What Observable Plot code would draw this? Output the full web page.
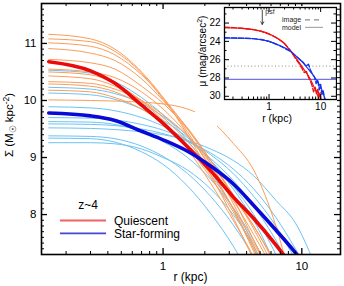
<!DOCTYPE html>
<html><head><meta charset="utf-8">
<script src="https://cdn.jsdelivr.net/npm/d3@7"></script>
<script src="https://cdn.jsdelivr.net/npm/@observablehq/plot@0.6"></script>
<style>
body{margin:0;background:#fff;}
#wrap{position:relative;width:344px;height:286px;font-family:"Liberation Sans",Arial,sans-serif;}
#inset{position:absolute;left:195px;top:6px;}
svg{display:block;}
</style></head><body><div id="wrap"><div id="main"></div><div id="inset"></div></div>
<script>
// ---------- main panel data ----------
const radii = [0.15, 0.3, 0.45, 0.7, 1.0, 1.5, 2.2, 3.2, 4.5, 6.5, 9, 13]; // kpc
const quiescentMedian = [10.68, 10.52, 10.30, 9.92, 9.60, 9.19, 8.77, 8.31, 7.93, 7.47, 7.02];
const starFormingMedian = [9.78, 9.73, 9.65, 9.46, 9.31, 9.11, 8.85, 8.54, 8.16, 7.73, 7.33, 6.8];
const quiescentProfiles = [
  [11.16, 11.08, 10.90, 10.50, 10.05, 9.40, 8.70, 7.95, 7.20, 6.30],
  [11.08, 11.03, 10.86, 10.48, 10.02, 9.45, 8.80, 8.10, 7.35, 6.50],
  [11.01, 10.95, 10.80, 10.45, 10.05, 9.50, 8.90, 8.20, 7.45, 6.60],
  [10.91, 10.83, 10.70, 10.38, 10.00, 9.52, 8.95, 8.30, 7.55, 6.80],
  [10.72, 10.66, 10.55, 10.25, 9.95, 9.50, 8.95, 8.35, 7.75, 7.00],
  [10.55, 10.50, 10.40, 10.15, 9.85, 9.40, 8.85, 8.30, 7.80, 7.10, 6.40],
  [10.50, 10.45, 10.30, 10.00, 9.70, 9.28, 8.80, 8.25, 7.65, 6.95],
  [10.43, 10.38, 10.25, 9.98, 9.65, 9.15, 8.55, 7.90, 7.25, 6.40],
  [10.33, 10.30, 10.20, 10.00, 9.75, 9.38, 8.90, 8.35, 7.80, 7.15],
  [10.29, 10.25, 10.15, 9.92, 9.62, 9.18, 8.65, 8.05, 7.40, 6.60],
  [10.01, 10.00, 9.99, 9.97, 9.94, 9.85, 9.65, 9.25, 8.78, 7.80, 6.50],
  [10.18, 10.15, 10.05, 9.85, 9.60, 9.20, 8.70, 8.12, 7.50, 6.80]
];
const starFormingProfiles = [
  [10.53, 10.48, 10.33, 10.05, 9.75, 9.30, 8.75, 8.10, 7.40, 6.50],
  [10.23, 10.20, 10.12, 9.95, 9.72, 9.38, 8.95, 8.45, 7.90, 7.10],
  [10.13, 10.10, 10.02, 9.85, 9.65, 9.35, 8.95, 8.50, 8.00, 7.30, 6.50],
  [9.89, 9.87, 9.82, 9.70, 9.55, 9.30, 8.98, 8.60, 8.15, 7.55, 6.90],
  [9.70, 9.69, 9.66, 9.58, 9.48, 9.30, 9.05, 8.72, 8.32, 7.80, 7.20],
  [9.63, 9.62, 9.58, 9.45, 9.28, 9.00, 8.62, 8.12, 7.55, 6.70],
  [9.59, 9.58, 9.56, 9.50, 9.42, 9.28, 9.08, 8.80, 8.45, 7.95, 7.40, 6.70],
  [9.52, 9.51, 9.49, 9.45, 9.40, 9.30, 9.15, 8.95, 8.68, 8.25, 7.85, 7.00],
  [9.38, 9.37, 9.33, 9.20, 9.02, 8.72, 8.32, 7.82, 7.25, 6.40],
  [9.34, 9.33, 9.27, 9.10, 8.88, 8.50, 8.02, 7.45, 6.80],
  [9.26, 9.26, 9.24, 9.15, 9.00, 8.78, 8.45, 8.00, 7.45, 6.60]
];
const xDomain = [0.133, 19];
const yDomain = [7.3, 11.7];
const xMajor = [1, 10];
const xMinor = [0.2, 0.3, 0.4, 0.5, 0.6, 0.7, 0.8, 0.9, 2, 3, 4, 5, 6, 7, 8, 9];
const yMajor = [8, 9, 10, 11];
const yMinor = d3.range(74, 117).map(d => d / 10).filter(d => !yMajor.includes(d));
const legendTitle = "z~4";
const legendLabels = ["Quiescent", "Star-forming"];

// ---------- inset data ----------
const qModelR = [0.137, 0.2, 0.3, 0.5, 0.7, 1.0, 1.43, 1.92, 2.6, 3.5, 4.67, 6.3, 8.5, 10.5];
const qModelMu = [22.52, 22.54, 22.58, 22.72, 22.88, 23.18, 23.65, 24.15, 25.05, 26.0, 27.0, 28.1, 29.75, 31.0];
const qImageR = [0.137, 0.2, 0.3, 0.5, 0.7, 1.0, 1.5, 2.0, 2.6, 3.2, 3.8, 4.3, 4.8, 5.3, 5.8, 6.3, 6.8, 7.3, 7.8, 8.3, 8.8, 9.3, 9.8, 10.3];
const qImageMu = [22.45, 22.5, 22.57, 22.72, 22.9, 23.2, 23.7, 24.25, 25.0, 25.8, 26.4, 26.9, 27.4, 27.3, 27.9, 28.3, 28.8, 29.5, 29.0, 29.7, 29.2, 30.1, 29.6, 30.6];
const sfModelR = [0.137, 0.3, 0.5, 0.7, 1.0, 1.66, 2.6, 3.5, 4.67, 6.3, 8.5, 10.6, 12.3];
const sfModelMu = [23.63, 23.66, 23.72, 23.82, 24.0, 24.5, 25.05, 25.7, 26.4, 27.3, 28.3, 29.3, 30.4];
const sfImageR = [0.137, 0.3, 0.5, 0.7, 1.0, 1.66, 2.6, 3.3, 4.0, 4.6, 5.2, 5.8, 6.4, 7.0, 7.6, 8.2, 8.8, 9.4, 10.0, 10.6, 11.2, 11.8, 12.4];
const sfImageMu = [23.6, 23.65, 23.7, 23.8, 24.0, 24.5, 25.1, 25.6, 26.0, 26.3, 26.7, 26.5, 27.2, 27.6, 27.9, 28.6, 28.2, 29.3, 28.7, 29.8, 29.4, 30.1, 30.5];
const skyLimit = 26.7;     // dotted line
const depthLimit = 28.15;  // blue line
const psfR = 0.74;
const psfArrowMu = [20.6, 22.15];
const insetXDomain = [0.137, 20.3];
const insetYDomain = [30.35, 20.3];
const insetXMajor = [1, 10];
const insetXMinor = [0.2, 0.3, 0.4, 0.5, 0.6, 0.7, 0.8, 0.9, 2, 3, 4, 5, 6, 7, 8, 9];
const insetYMajor = [22, 24, 26, 28, 30];
const insetYMinor = [21, 23, 25, 27, 29];

// ---------- helpers ----------
function rowsFrom(profiles, tag) {
  const rows = [];
  profiles.forEach((p, i) => p.forEach((v, j) => { if (v != null) rows.push({r: radii[j], s: v, id: tag + i}); }));
  return rows;
}
const pairs = (xs, ys) => xs.map((x, i) => ({r: x, v: ys[i]}));
const FONT = "Liberation Sans, Arial, Helvetica, sans-serif";

// ---------- main plot ----------
const mW = 344, mH = 286, mL = 41, mR = 4, mT = 3, mB = 32;
const innerW = mW - mL - mR, innerH = mH - mT - mB;
const lineOpts = {x: "r", y: "s", z: "id", strokeWidth: 1, curve: "monotone-x", clip: true};

const main = Plot.plot({
  width: mW, height: mH,
  marginLeft: mL, marginRight: mR, marginTop: mT, marginBottom: mB,
  style: {fontFamily: FONT, fontSize: "11.5px", background: "white", color: "black"},
  x: {type: "log", domain: xDomain, ticks: xMajor, tickFormat: d => String(d), tickSize: 0, tickPadding: 7, label: null},
  y: {domain: yDomain, ticks: yMajor, tickFormat: d => String(d), tickSize: 0, tickPadding: 5, label: null},
  marks: [
    Plot.line(rowsFrom(starFormingProfiles, "sf"), {...lineOpts, stroke: "#6cc3f4"}),
    Plot.line(rowsFrom(quiescentProfiles, "q"), {...lineOpts, stroke: "#fb9d58"}),
    Plot.line(quiescentMedian.map((v, j) => ({r: radii[j], s: v})), {x: "r", y: "s", stroke: "#ea0a0a", strokeWidth: 3.6, curve: "monotone-x", clip: true}),
    Plot.line(starFormingMedian.map((v, j) => ({r: radii[j], s: v})), {x: "r", y: "s", stroke: "#0a0ad8", strokeWidth: 3.6, curve: "monotone-x", clip: true}),
    // inward ticks on all four sides
    Plot.tickX(xMinor, {x: d => d, insetTop: innerH - 3, stroke: "black"}),
    Plot.tickX(xMajor, {x: d => d, insetTop: innerH - 6, stroke: "black", strokeWidth: 1.3}),
    Plot.tickX(xMinor, {x: d => d, insetBottom: innerH - 3, stroke: "black"}),
    Plot.tickX(xMajor, {x: d => d, insetBottom: innerH - 6, stroke: "black", strokeWidth: 1.3}),
    Plot.tickY(yMinor, {y: d => d, insetRight: innerW - 3, stroke: "black"}),
    Plot.tickY(yMajor, {y: d => d, insetRight: innerW - 6, stroke: "black", strokeWidth: 1.3}),
    Plot.tickY(yMinor, {y: d => d, insetLeft: innerW - 3, stroke: "black"}),
    Plot.tickY(yMajor, {y: d => d, insetLeft: innerW - 6, stroke: "black", strokeWidth: 1.3}),
    Plot.frame({stroke: "black", strokeWidth: 1.6})
  ]
});
document.getElementById("main").appendChild(main);

const ms = d3.select(main);
// axis labels
ms.append("text").attr("x", (mL + mW - mR) / 2).attr("y", 281).attr("text-anchor", "middle")
  .attr("font-family", FONT).attr("font-size", 12).attr("fill", "black").text("r (kpc)");
const yl = ms.append("text").attr("transform", "translate(13,125) rotate(-90)").attr("text-anchor", "middle")
  .attr("font-family", FONT).attr("font-size", 11.5).attr("fill", "black");
yl.append("tspan").text("Σ (M");
yl.append("tspan").attr("font-size", 8.5).attr("dy", 3).text("☉");
yl.append("tspan").attr("dy", -3).text(" kpc");
yl.append("tspan").attr("font-size", 8.5).attr("dy", -4.5).text("-2");
yl.append("tspan").attr("dy", 4.5).text(")");
// legend
ms.append("text").attr("x", 88).attr("y", 209).attr("text-anchor", "middle")
  .attr("font-family", FONT).attr("font-size", 12).attr("fill", "black").text(legendTitle);
const legColors = ["#f06262", "#4646d6"];
legendLabels.forEach((lab, i) => {
  const y = 220.5 + i * 12.8;
  ms.append("line").attr("x1", 60).attr("x2", 106).attr("y1", y).attr("y2", y)
    .attr("stroke", legColors[i]).attr("stroke-width", 1.8);
  ms.append("text").attr("x", 114).attr("y", y + 4.2).attr("text-anchor", "start")
    .attr("font-family", FONT).attr("font-size", 12).attr("fill", "black").text(lab);
});

// ---------- inset ----------
const iW = 142, iH = 120, iL = 29, iR = 1, iT = 1, iB = 27;
const iInW = iW - iL - iR, iInH = iH - iT - iB;
const inset = Plot.plot({
  width: iW, height: iH,
  marginLeft: iL, marginRight: iR, marginTop: iT, marginBottom: iB,
  style: {fontFamily: FONT, fontSize: "10px", background: "white", color: "black"},
  x: {type: "log", domain: insetXDomain, ticks: insetXMajor, tickFormat: d => String(d), tickSize: 0, tickPadding: 3, label: null},
  y: {domain: insetYDomain, ticks: insetYMajor, tickFormat: d => String(d), tickSize: 0, tickPadding: 4, label: null},
  marks: [
    Plot.ruleY([skyLimit], {stroke: "#8a8a8a", strokeWidth: 1, strokeDasharray: "1,2.4"}),
    Plot.ruleY([depthLimit], {stroke: "#7373ee", strokeWidth: 1.1}),
    Plot.line(pairs(qImageR, qImageMu), {x: "r", y: "v", stroke: "#ee1111", strokeWidth: 1.4, strokeDasharray: "5,2", clip: true}),
    Plot.line(pairs(sfImageR, sfImageMu), {x: "r", y: "v", stroke: "#1530ee", strokeWidth: 1.4, strokeDasharray: "5,2", clip: true}),
    Plot.line(pairs(qModelR, qModelMu), {x: "r", y: "v", stroke: "#ee1111", strokeWidth: 1.1, curve: "monotone-x", clip: true}),
    Plot.line(pairs(sfModelR, sfModelMu), {x: "r", y: "v", stroke: "#1530ee", strokeWidth: 1.1, curve: "monotone-x", clip: true}),
    Plot.arrow([psfR], {x1: d => d, x2: d => d, y1: psfArrowMu[0], y2: psfArrowMu[1], stroke: "#333", strokeWidth: 0.9, headLength: 5, bend: 0}),
    Plot.text(["psf"], {x: psfR, y: psfArrowMu[0], text: d => d, dx: 3, dy: 1.5, textAnchor: "start", fontSize: 7, fill: "#333"}),
    Plot.tickX(insetXMinor, {x: d => d, insetTop: iInH - 2.5, stroke: "black"}),
    Plot.tickX(insetXMajor, {x: d => d, insetTop: iInH - 5, stroke: "black"}),
    Plot.tickX(insetXMinor, {x: d => d, insetBottom: iInH - 2.5, stroke: "black"}),
    Plot.tickX(insetXMajor, {x: d => d, insetBottom: iInH - 5, stroke: "black"}),
    Plot.tickY(insetYMinor, {y: d => d, insetRight: iInW - 2.5, stroke: "black"}),
    Plot.tickY(insetYMajor, {y: d => d, insetRight: iInW - 5, stroke: "black"}),
    Plot.tickY(insetYMinor, {y: d => d, insetLeft: iInW - 2.5, stroke: "black"}),
    Plot.tickY(insetYMajor, {y: d => d, insetLeft: iInW - 5, stroke: "black"}),
    Plot.frame({stroke: "black", strokeWidth: 1.3})
  ]
});
document.getElementById("inset").appendChild(inset);
const is = d3.select(inset);
is.append("text").attr("x", 82).attr("y", 116).attr("text-anchor", "middle")
  .attr("font-family", FONT).attr("font-size", 10.5).attr("fill", "black").text("r (kpc)");
const iyl = is.append("text").attr("transform", "translate(10.5,45) rotate(-90)").attr("text-anchor", "middle")
  .attr("font-family", FONT).attr("font-size", 10).attr("fill", "black");
iyl.append("tspan").text("μ (mag/arcsec");
iyl.append("tspan").attr("font-size", 7).attr("dy", -4).text("2");
iyl.append("tspan").attr("dy", 4).text(")");
// inset legend
const insetLegend = [{label: "image", dash: "5,4", color: "#8a8a8a"}, {label: "model", dash: null, color: "#aaaaaa"}];
insetLegend.forEach((d, i) => {
  const y = 13.8 + i * 7.6;
  is.append("text").attr("x", 87).attr("y", y + 2.3).attr("text-anchor", "start")
    .attr("font-family", FONT).attr("font-size", 7).attr("fill", "#222").text(d.label);
  const ln = is.append("line").attr("x1", 110).attr("x2", 128).attr("y1", y).attr("y2", y)
    .attr("stroke", d.color).attr("stroke-width", 1.2);
  if (d.dash) ln.attr("stroke-dasharray", d.dash);
});
</script>
</body></html>
